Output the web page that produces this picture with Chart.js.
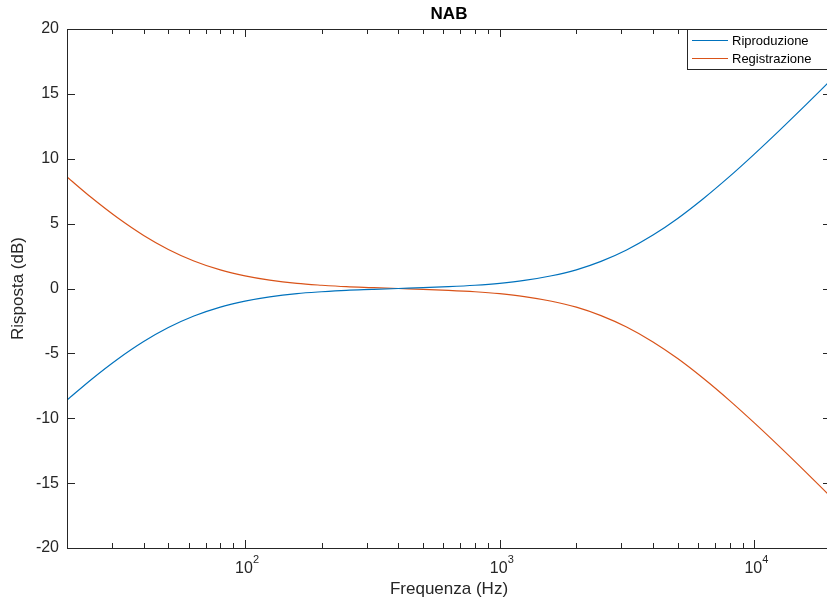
<!DOCTYPE html>
<html>
<head>
<meta charset="utf-8">
<script src="https://cdn.jsdelivr.net/npm/chart.js@4"></script>
<style>
  html, body { margin: 0; padding: 0; background: #fff; overflow: hidden; }
  #wrap { width: 840px; height: 608px; }
</style>
</head>
<body>
<div id="wrap"><canvas id="nabChart" width="840" height="608"></canvas></div>
<script>
// Frequencies (Hz), 1/3 octave
const freqs = [20, 25, 31.5, 40, 50, 63, 80, 100, 125, 160, 200, 250, 315, 400, 500, 630,
  800, 1000, 1250, 1600, 2000, 2500, 3150, 4000, 5000, 6300, 8000, 10000, 12500, 16000, 20000];

// Risposta (dB)
const riproduzione = [-8.60, -6.99, -5.47, -4.09, -3.01, -2.12, -1.43, -0.97, -0.64, -0.39, -0.25,
  -0.14, -0.07, 0.00, 0.06, 0.14, 0.25, 0.40, 0.62, 0.98, 1.44, 2.09, 2.97, 4.12, 5.40, 6.92,
  8.64, 10.36, 12.15, 14.19, 16.07];
const registrazione = [8.60, 6.99, 5.47, 4.09, 3.01, 2.12, 1.43, 0.97, 0.64, 0.39, 0.25,
  0.14, 0.07, 0.00, -0.06, -0.14, -0.25, -0.40, -0.62, -0.98, -1.44, -2.09, -2.97, -4.12, -5.40, -6.92,
  -8.64, -10.36, -12.15, -14.19, -16.07];

const xDecades = [2, 3, 4];
const yTicks = [-20, -15, -10, -5, 0, 5, 10, 15, 20];

const axisColor = '#262626';
const fontFamily = '"Liberation Sans", Arial, sans-serif';

function toPoints(ys) {
  return freqs.map((f, i) => ({ x: f, y: ys[i] }));
}

/**
 * Box, inward ticks, decade labels and legend, MATLAB style
 */
const matlabAxes = {
  id: 'matlabAxes',
  afterDatasetsDraw(chart) {
    const ctx = chart.ctx;
    const a = chart.chartArea;
    const xs = chart.scales.x;
    const ys = chart.scales.y;
    ctx.save();
    ctx.strokeStyle = axisColor;
    ctx.lineWidth = 1;

    // ticks on x (bottom and top)
    ctx.beginPath();
    for (let e = 1; e <= 4; e++) {
      for (let m = 1; m <= 9; m++) {
        const v = m * Math.pow(10, e);
        if (v < 20 || v > 20000) continue;
        const px = Math.round(xs.getPixelForValue(v)) + 0.5;
        const len = m === 1 ? 8 : 5;
        ctx.moveTo(px, a.bottom); ctx.lineTo(px, a.bottom - len);
        ctx.moveTo(px, a.top); ctx.lineTo(px, a.top + len);
      }
    }
    // ticks on y (left and right)
    yTicks.forEach(v => {
      const py = Math.round(ys.getPixelForValue(v)) + 0.5;
      ctx.moveTo(a.left, py); ctx.lineTo(a.left + 8, py);
      ctx.moveTo(a.right, py); ctx.lineTo(a.right - 8, py);
    });
    ctx.stroke();

    // box
    ctx.strokeRect(Math.round(a.left) + 0.5, Math.round(a.top) + 0.5,
      Math.round(a.right - a.left), Math.round(a.bottom - a.top));

    // decade labels 10^n
    ctx.fillStyle = axisColor;
    ctx.textBaseline = 'alphabetic';
    xDecades.forEach(e => {
      const px = xs.getPixelForValue(Math.pow(10, e));
      ctx.font = '16px ' + fontFamily;
      ctx.textAlign = 'center';
      ctx.fillText('10', px - 1, 573);
      ctx.font = '11px ' + fontFamily;
      ctx.textAlign = 'left';
      ctx.fillText(String(e), px + 8, 563);
    });

    // legend
    const lx = 687, ly = 29;
    ctx.fillStyle = '#fff';
    ctx.fillRect(lx, ly, 150, 40);
    ctx.strokeStyle = axisColor;
    ctx.strokeRect(lx + 0.5, ly + 0.5, 150, 40);
    ctx.font = '13px ' + fontFamily;
    ctx.textBaseline = 'middle';
    ctx.textAlign = 'left';
    chart.data.datasets.forEach((ds, i) => {
      const yy = ly + 11 + i * 18;
      ctx.strokeStyle = ds.borderColor;
      ctx.lineWidth = 1.2;
      ctx.beginPath();
      ctx.moveTo(692, yy + 0.5); ctx.lineTo(728, yy + 0.5);
      ctx.stroke();
      ctx.fillStyle = '#000';
      ctx.fillText(ds.label, 732, yy + 1);
    });
    ctx.restore();
  }
};

function createNabChart() {
  const ctx = document.getElementById('nabChart').getContext('2d');
  return new Chart(ctx, {
    type: 'line',
    data: {
      datasets: [{
        label: 'Riproduzione',
        data: toPoints(riproduzione),
        borderColor: '#0072BD',
        borderWidth: 1.2,
        pointRadius: 0,
        cubicInterpolationMode: 'monotone',
        fill: false
      }, {
        label: 'Registrazione',
        data: toPoints(registrazione),
        borderColor: '#D95319',
        borderWidth: 1.2,
        pointRadius: 0,
        cubicInterpolationMode: 'monotone',
        fill: false
      }]
    },
    options: {
      responsive: false,
      animation: false,
      devicePixelRatio: 1,
      layout: { padding: { left: 0, right: 9, top: 0, bottom: 0 } },
      plugins: {
        legend: { display: false },
        tooltip: { enabled: false },
        title: {
          display: true,
          fullSize: false,
          text: 'NAB',
          color: '#000',
          font: { family: fontFamily, size: 17, weight: 'bold' },
          padding: { top: 4, bottom: 4.6 }
        }
      },
      scales: {
        x: {
          type: 'logarithmic',
          min: 20,
          max: 20000,
          grid: { display: false },
          border: { display: false },
          ticks: { display: false },
          title: {
            display: true,
            text: 'Frequenza (Hz)',
            color: axisColor,
            font: { family: fontFamily, size: 17 },
            padding: { top: 0, bottom: 8.8 }
          },
          afterFit(scale) { scale.height = 60; }
        },
        y: {
          min: -20,
          max: 20,
          grid: { display: false, drawTicks: false },
          border: { display: false },
          ticks: {
            stepSize: 5,
            padding: 8,
            color: axisColor,
            font: { family: fontFamily, size: 16 }
          },
          title: {
            display: true,
            text: 'Risposta (dB)',
            color: axisColor,
            font: { family: fontFamily, size: 17 },
            padding: { top: 7.8, bottom: 0 }
          },
          afterFit(scale) { scale.width = 67; }
        }
      }
    },
    plugins: [matlabAxes]
  });
}

document.addEventListener('DOMContentLoaded', createNabChart);
</script>
</body>
</html>
